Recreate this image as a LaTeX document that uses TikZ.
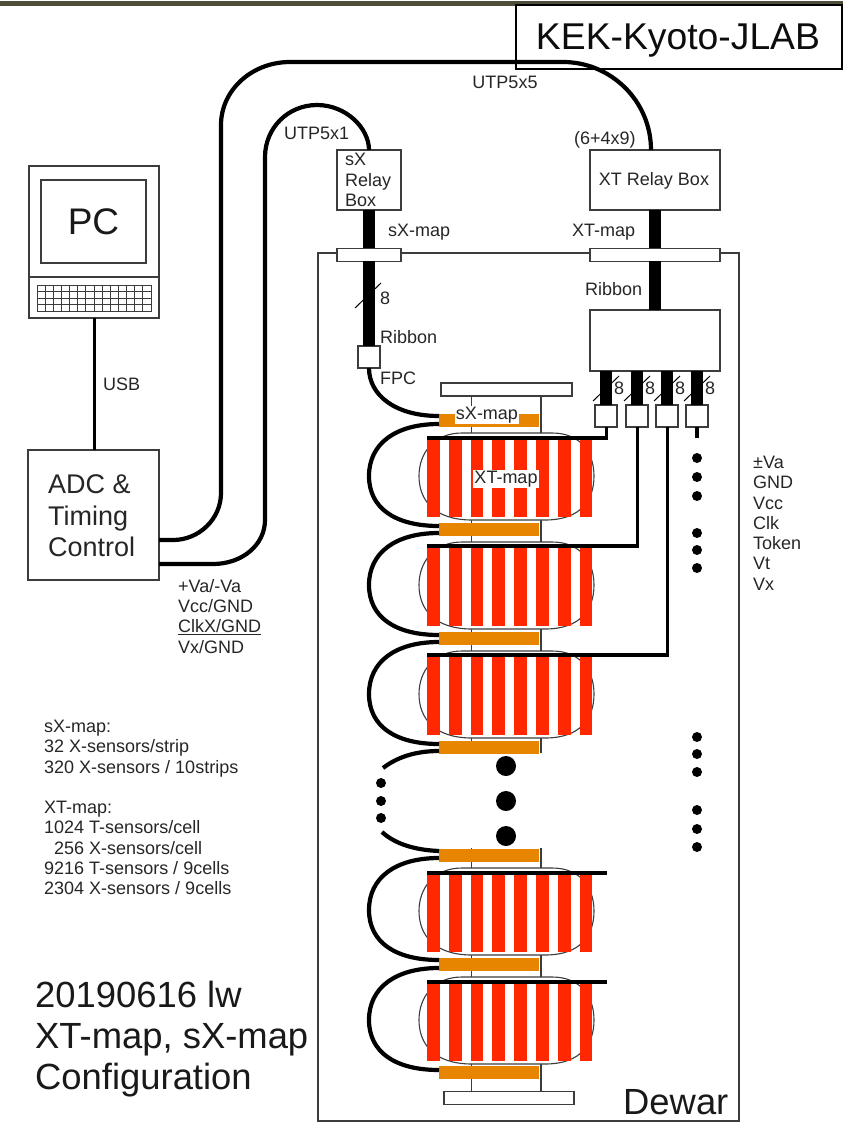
\documentclass[tikz,border=0pt]{standalone}
\usepackage{fontspec}
\setmainfont{Liberation Sans}
\definecolor{olive}{RGB}{78,78,58}
\definecolor{strip}{RGB}{255,40,0}
\definecolor{amber}{RGB}{232,133,0}
\definecolor{ln}{RGB}{60,60,60}
\tikzset{
 box/.style={draw=ln,line width=1.3pt,fill=white,inner sep=0pt,outer sep=0pt},
 fine/.style={draw=ln,line width=1.2pt},
 cable/.style={draw=black,line width=4.2pt,line cap=butt},
 ribbon/.style={draw=black,line width=11.7pt},
 wire/.style={draw=black,line width=3pt},
 slash/.style={draw=black,line width=1pt},
 lab/.style={font=\fontsize{18}{20.25}\selectfont,inner sep=0pt,align=left,text=black!85},
 big/.style={font=\fontsize{36.4}{41}\selectfont,inner sep=0pt,align=left,text=black!90},
 amberbar/.style={fill=amber},
 dotb/.style={fill=black,circle,inner sep=0pt,minimum size=10pt},
 dotB/.style={fill=black,circle,inner sep=0pt,minimum size=20pt},
}
\newcommand\xtcell[1]{%
 \begin{scope}[shift={(0,#1)}]
  \fill[white] (440,-5)--(560,-5)--(590,10)--(590,70)--(560,82)--(440,82)--(425,70)--(425,10)--cycle;
  \draw[ln,line width=1.1pt] (462,-5) .. controls (434,-5) and (419,15) .. (419,38)
     .. controls (419,62) and (434,82) .. (472,82) -- (545,82)
     .. controls (581,82) and (594,62) .. (594,38)
     .. controls (594,15) and (581,-5) .. (552,-5) -- cycle;
  \foreach \k in {0,...,7}{\fill[strip] ({427+21.8*\k},0) rectangle ({439.7+21.8*\k},78.5);}
 \end{scope}}
\begin{document}
\begin{tikzpicture}[x=1pt,y=-1pt]
\useasboundingbox (0,0) rectangle (843,1122);
\fill[olive] (0,1) rectangle (843,6);
% Dewar
\draw[fine] (401,253)--(590,253);
\draw[fine] (337,253)--(318,253)--(318,1121)--(739,1121)--(739,253)--(720,253);
% rods
\draw[fine] (471.5,396)--(471.5,1091);
\draw[fine] (541,396)--(541,1091);
\fill[white] (430,753) rectangle (560,848);
% cells
\xtcell{438}\xtcell{547}\xtcell{656}\xtcell{873}\xtcell{982}
% plates
\node[box,minimum width=131pt,minimum height=13pt] (topplate) at (506.5,389.5) {};
\node[box,minimum width=130pt,minimum height=13pt] (botplate) at (509,1098) {};
% PC
\node[box,minimum width=130pt,minimum height=152pt] (pc) at (94,242) {};
\node[box,minimum width=105pt,minimum height=83pt,font=\fontsize{37}{40}\selectfont,text=black!90] (screen) at (93.5,221.5) {\raisebox{-1pt}{PC}};
\draw[fine] (pc.west |- 0,277)--(pc.east |- 0,277);
\draw[draw=ln,line width=.9pt,fill=white] (37,285) rectangle (151,311);
\foreach \k in {1,...,13}{\draw[ln,line width=.8pt] ({37+8.14*\k},285)--({37+8.14*\k},311);}
\foreach \k in {1,...,3}{\draw[ln,line width=.8pt] (37,{285+6.5*\k})--(151,{285+6.5*\k});}
% ADC
\node[box,minimum width=131pt,minimum height=130pt] (adc) at (93.5,515) {};
\node[lab,font=\fontsize{27}{31.5}\selectfont,anchor=north west] at (48,474.5) {ADC \&\\Timing\\Control};
\draw[line width=3pt] (pc.south)--(pc.south |- adc.north);
% relay boxes
\node[box,minimum width=64pt,minimum height=60pt] (sxrelay) at (369,180) {};
\node[box,minimum width=130pt,minimum height=60pt] (xtrelay) at (655,180) {};
\node[box,minimum width=64pt,minimum height=13pt] (sxft) at (369,254.7) {};
\node[box,minimum width=130pt,minimum height=13pt] (xtft) at (655,254.7) {};
\node[box,minimum width=130pt,minimum height=61pt] (fan) at (655,340.5) {};
\node[box,minimum width=22pt,minimum height=22pt] (sxconn) at (369,357) {};
% label box, the cable shows over it
\node[box,draw=black,minimum width=326pt,minimum height=64pt] (kek) at (679,37) {};
% thick cables
\coordinate (adcA) at (adc.east |- 0,540);
\coordinate (adcB) at (adc.east |- 0,564);
\coordinate (xtin) at (651,150);
\coordinate (sxin) at (369,150);
\draw[cable] (adcA) -- (173,540) .. controls (199,540) and (221,519) .. (221,493) -- (221,125)
   .. controls (221,90) and (252,62) .. (290,62) -- (563,62)
   .. controls (611,62) and (651,101) .. (xtin);
\draw[cable] (adcB) -- (213,564) .. controls (242,564) and (265,545) .. (265,520) -- (265,157)
   .. controls (265,128) and (288,105) .. (317,105)
   .. controls (346,105) and (369,128) .. (sxin);
\node[font=\fontsize{37.3}{40}\selectfont,text=black!95,inner sep=0pt] at (678,41) {KEK-Kyoto-JLAB};
% ribbons
\draw[ribbon] (sxrelay.south)--(sxft.north);
\draw[ribbon] (sxft.south)--(sxconn.north);
\draw[ribbon] (xtrelay.south)--(xtft.north);
\draw[ribbon] (xtft.south)--(fan.north);
\draw[slash] (355,308)--(381,283);
\foreach \x/\n in {606/a,637/b,667/c,697/d}{
 \node[box,minimum width=22pt,minimum height=22pt] (conn\n) at (\x,416) {};
 \draw[ribbon] (\x,371)--(conn\n.north);
 \draw[slash] (\x-13,401)--(\x+13,376);
 \node[lab,anchor=west] at (\x+8,388) {8};
}
% amber bars
\foreach \y in {414,523,632,741,849,958,1066}{\fill[amberbar] (439,\y) rectangle (539,\y+13);}
% loops
\draw[cable] (sxconn.south) .. controls (369,395) and (395,416) .. (439,416);
\foreach \y in {424,533,642,858,968}{
 \draw[cable] (439,\y) .. controls (395,\y) and (369,\y+20) .. (369,\y+52)
   .. controls (369,\y+84) and (395,\y+102) .. (439,\y+102);
}
\draw[cable] (439,751) .. controls (420,751) and (400,755) .. (383,768);
\draw[cable] (382,832) .. controls (395,844) and (415,850) .. (439,851);
% black top wires
\foreach \y in {873,982}{\draw[line width=4.2pt] (427,\y)--(607,\y);}
\draw[line width=4.2pt] (427,438)--(607.5,438);
\draw[wire] (conna.south)--(606,438);
\draw[line width=4.2pt] (427,546)--(638.5,546);
\draw[wire] (connb.south)--(637,547.5);
\draw[line width=4.2pt] (427,655)--(668.5,655);
\draw[wire] (connc.south)--(667,656.5);
\draw[line width=4pt] (connd.south)--(697,438);
% dots
\foreach \x/\y in {381/783,381/801,381/818,697/458,697/477,697/496,697/533,697/550,697/568,697/737,697/754,697/772,697/810,697/829,697/847}
 {\node[dotb] (d\x-\y) at (\x,\y) {};}
\foreach \y in {766,801,836}{\node[dotB] (D\y) at (506,\y) {};}
% labels
\node[lab] at (505,82) {UTP5x5};
\node[lab,anchor=west] at (284,133) {UTP5x1};
\node[lab,anchor=west] at (574,140) {(6+4x9)};
\node[lab,anchor=north west,font=\fontsize{18}{20.5}\selectfont] at (345,153) {sX\\Relay\\Box};
\node[lab] at (654,181) {XT Relay Box};
\node[lab,anchor=west] at (388,232) {sX-map};
\node[lab,anchor=west] at (572,232) {XT-map};
\node[lab,anchor=west] at (585,289) {Ribbon};
\node[lab,anchor=west] at (380,298) {8};
\node[lab,anchor=west] at (380,337) {Ribbon};
\node[lab,anchor=west] at (380,378) {FPC};
\node[lab,fill=white,inner xsep=1pt,inner ysep=1pt] at (487,415) {sX-map};
\node[lab,fill=white,inner xsep=1pt,inner ysep=1pt] at (506,479) {XT-map};
\node[lab,anchor=west] at (103,384) {USB};
\node[lab,anchor=north west,font=\fontsize{18}{20.3}\selectfont] at (178,579) {+Va/-Va\\Vcc/GND\\\underline{ClkX/GND}\\Vx/GND};
\node[lab,anchor=north west] at (753,456) {±Va\\GND\\Vcc\\Clk\\Token\\Vt\\Vx};
\node[lab,anchor=north west] at (44,720) {sX-map:\\32 X-sensors/strip\\320 X-sensors / 10strips\\[20.25pt]XT-map:\\1024 T-sensors/cell\\\ \ 256 X-sensors/cell\\9216 T-sensors / 9cells\\2304 X-sensors / 9cells};
\node[big,anchor=north west] at (35,980.5) {20190616 lw\\XT-map, sX-map\\Configuration};
\node[big,anchor=west] at (623,1102) {Dewar};
\end{tikzpicture}
\end{document}
